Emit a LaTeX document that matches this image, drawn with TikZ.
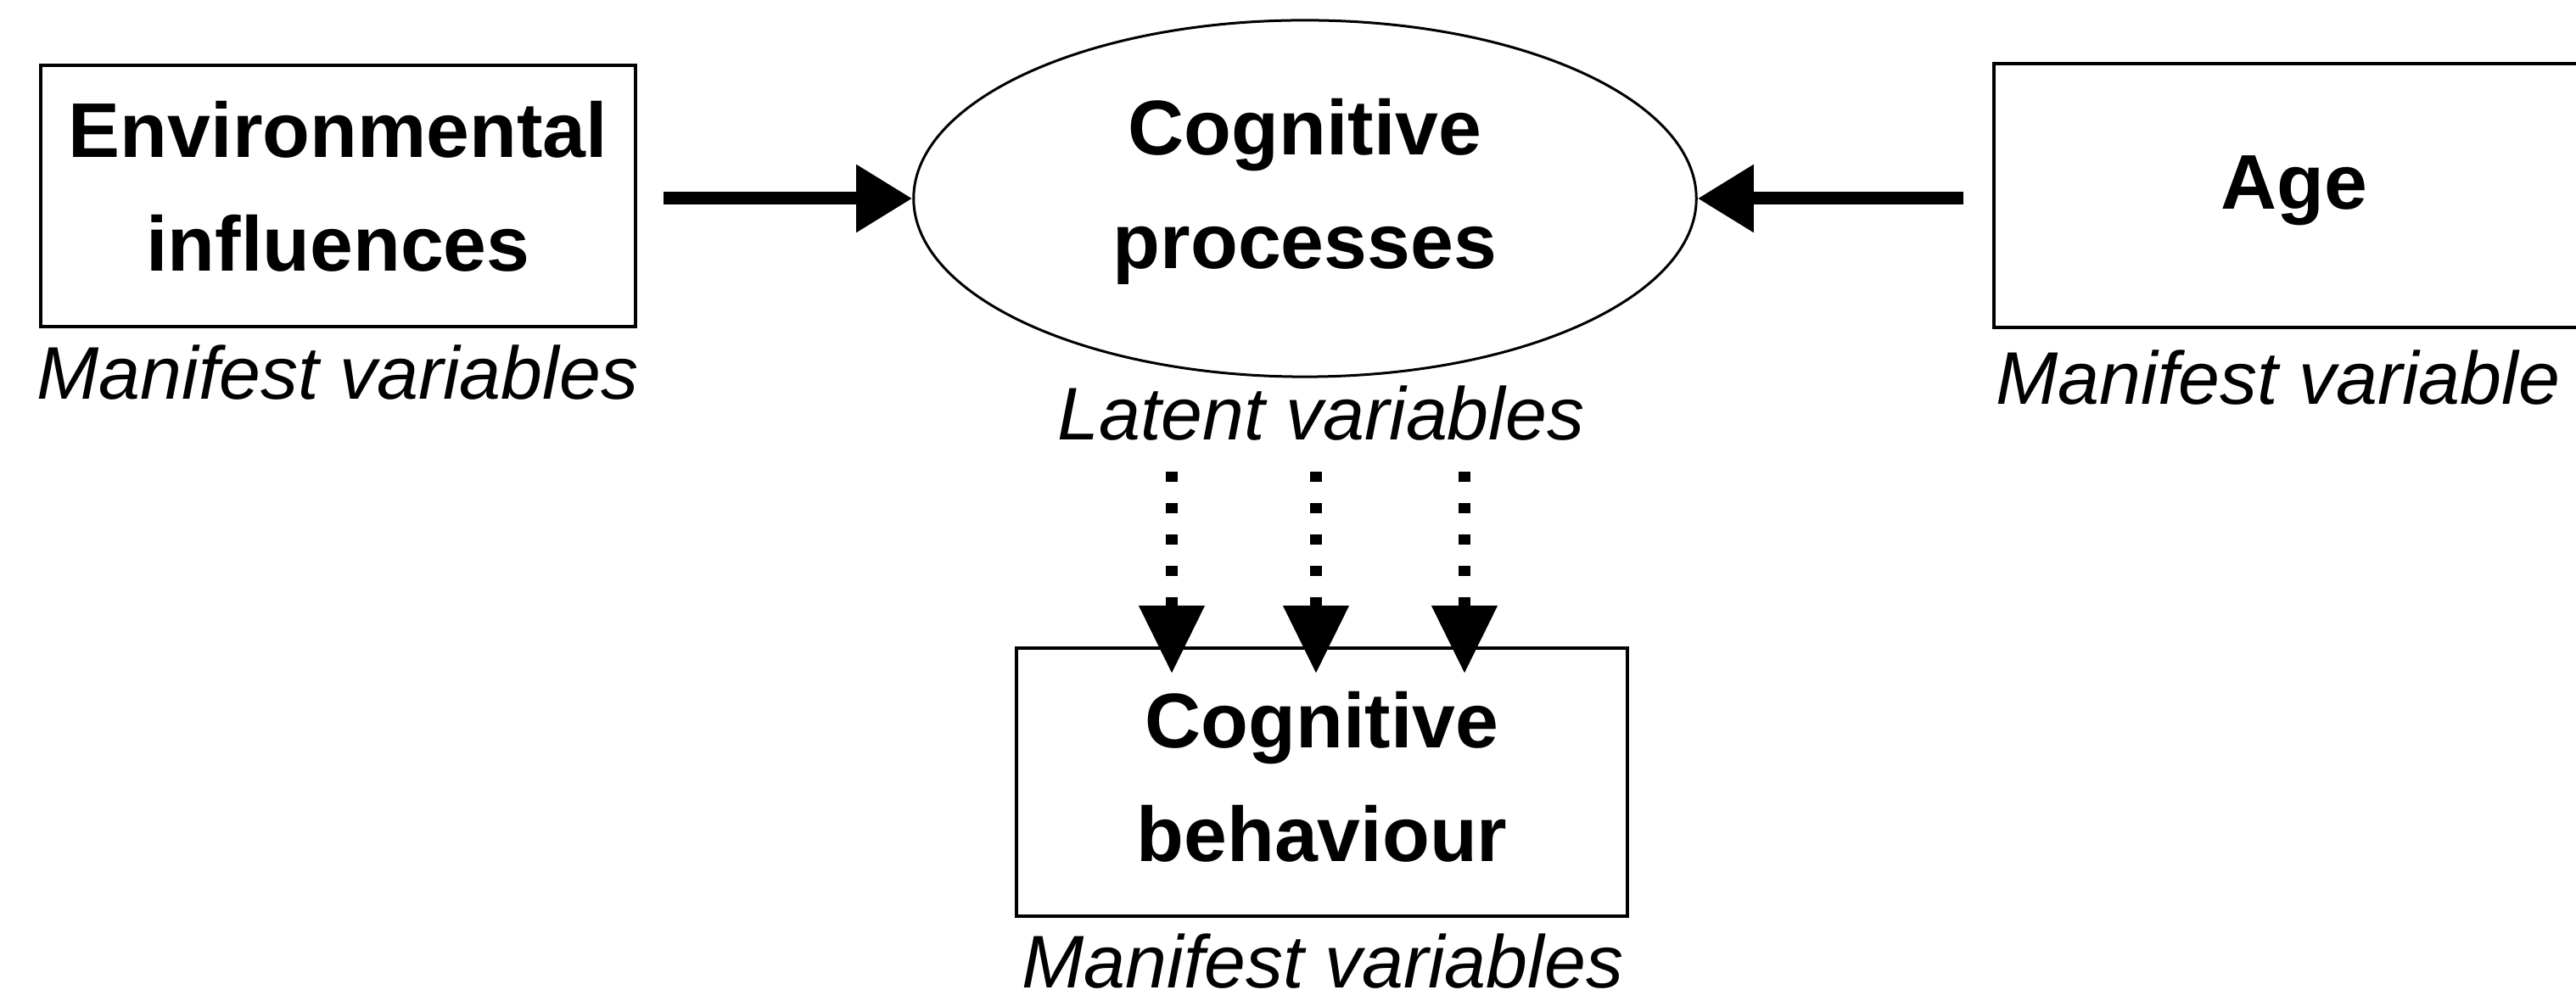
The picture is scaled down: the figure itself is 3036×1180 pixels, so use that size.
\documentclass[tikz,border=0pt]{standalone}
\usepackage{fontspec}
\setmainfont{Liberation Sans}
\usetikzlibrary{shapes.geometric,arrows.meta}
\begin{document}
\begin{tikzpicture}[x=0.01cm,y=-0.01cm,
  boxnode/.style={draw=black, line width=0.045cm, rectangle, inner sep=0pt},
  ellnode/.style={draw=black, line width=0.03cm, ellipse, inner sep=0pt,
    minimum width=9.22cm, minimum height=4.2cm},
  txt/.style={inner sep=0pt, align=center, font=\fontsize{26}{38}\selectfont\bfseries},
  lab/.style={font=\fontsize{25}{30}\selectfont\itshape, inner sep=0pt},
  solidarrow/.style={line width=0.15cm, -{Triangle[length=0.66cm,width=0.76cm]}},
  dotarrow/.style={line width=0.14cm, dash pattern=on 0.12cm off 0.25cm,
    -{Triangle[length=0.8cm,width=0.74cm]}}
]
\useasboundingbox (0,0) rectangle (3036,1180);
\fill[white] (0,0) rectangle (3036,1180);

\node[boxnode, minimum width=7.01cm, minimum height=3.08cm] (env) at (398.5,231) {};
\node[ellnode] (cp) at (1538,234) {};
\node[boxnode, minimum width=7.08cm, minimum height=3.11cm] (age) at (2704,230.5) {};
\node[boxnode, minimum width=7.2cm, minimum height=3.16cm] (cb) at (1558,922) {};

\node[txt] (envt) at ([yshift=0.11cm]env.center) {Environmental\\influences};
\node[txt] (cpt) at ([yshift=0.08cm]cp.center) {Cognitive\\processes};
\node[txt] (aget) at ([yshift=0.06cm]age.center) {Age};
\node[txt] (cbt) at ([yshift=0.06cm]cb.center) {Cognitive\\behaviour};

\node[lab, anchor=base] (m1) at (398,471) {Manifest variables};
\node[lab, anchor=base] (lv) at (1557,519) {Latent variables};
\node[lab, anchor=base west] (m2) at (2352,477) {Manifest variable};
\node[lab, anchor=base] (m3) at (1559,1164) {Manifest variables};

\coordinate (a1) at (782,234);
\coordinate (a2) at (2314,234);
\draw[solidarrow] (a1) -- (cp.west);
\draw[solidarrow] (a2) -- (cp.east);

\coordinate (d1s) at (1381,556);
\coordinate (d1e) at (1381,794);
\coordinate (d2s) at (1551,556);
\coordinate (d2e) at (1551,794);
\coordinate (d3s) at (1726,556);
\coordinate (d3e) at (1726,794);
\draw[dotarrow] (d1s) -- (d1e);
\draw[dotarrow] (d2s) -- (d2e);
\draw[dotarrow] (d3s) -- (d3e);
\end{tikzpicture}
\end{document}
